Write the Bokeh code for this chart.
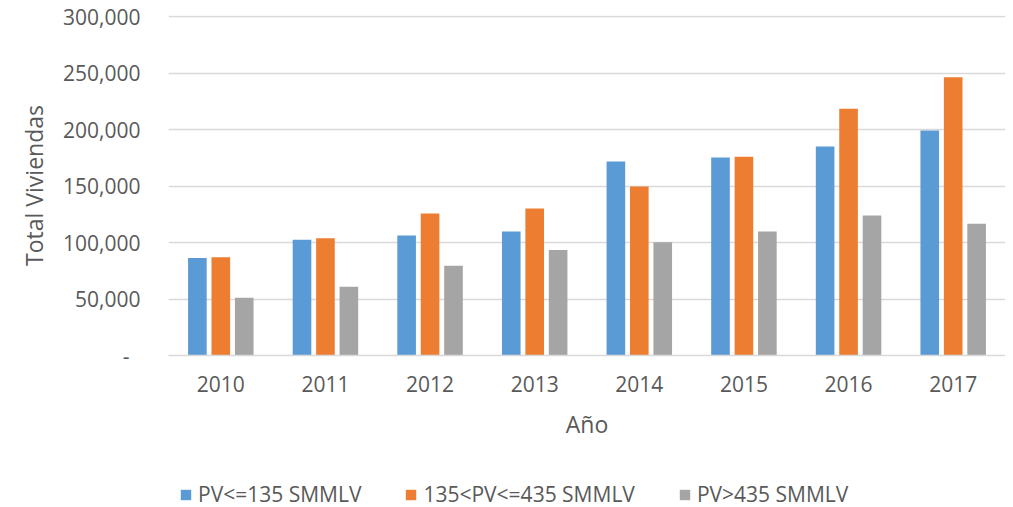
from bokeh.plotting import figure
from bokeh.layouts import column
from bokeh.models import ColumnDataSource, FactorRange, Range1d, FixedTicker, NumeralTickFormatter, Legend, LegendItem
from bokeh.transform import dodge
from bokeh.embed import file_html
from bokeh.resources import INLINE

years = ["2010", "2011", "2012", "2013", "2014", "2015", "2016", "2017"]
pv_low = [86300, 102500, 106100, 109700, 171700, 175300, 185000, 199200]
pv_mid = [86900, 103700, 125600, 130000, 149600, 175900, 218400, 246200]
pv_high = [51100, 60900, 79500, 93400, 100200, 109700, 123800, 116500]
series_names = ["PV<=135 SMMLV", "135<PV<=435 SMMLV", "PV>435 SMMLV"]
colors = ["#5B9BD5", "#ED7D31", "#A5A5A5"]
y_ticks = [0, 50000, 100000, 150000, 200000, 250000, 300000]

src = ColumnDataSource(dict(years=years, low=pv_low, mid=pv_mid, high=pv_high))

FONT = "Open Sans"
TXT = "#595959"

p = figure(x_range=FactorRange(*years), y_range=Range1d(0, 300900),
           width=1005, height=462, output_backend="svg", toolbar_location=None,
           min_border_left=168, min_border_right=0, min_border_top=15, min_border_bottom=107)
p.outline_line_color = None
p.background_fill_color = "white"
p.border_fill_color = "white"

for col, off, c in zip(["low", "mid", "high"], [-0.224, 0.0, 0.224], colors):
    p.vbar(x=dodge("years", off, range=p.x_range), top=col, width=0.178,
           source=src, fill_color=c, line_color=None)

p.xgrid.grid_line_color = None
p.ygrid.grid_line_color = "#D9D9D9"
p.ygrid.grid_line_width = 1.5
p.yaxis.ticker = FixedTicker(ticks=y_ticks)
p.yaxis.formatter = NumeralTickFormatter(format="0,0")
p.yaxis.major_label_overrides = {0: "-\u00a0\u00a0"}

for ax in (p.xaxis[0], p.yaxis[0]):
    ax.major_tick_in = 0
    ax.major_tick_out = 0
    ax.minor_tick_in = 0
    ax.minor_tick_out = 0
    ax.major_label_text_font = FONT
    ax.major_label_text_font_size = "21px"
    ax.major_label_text_color = TXT
    ax.axis_label_text_font = FONT
    ax.axis_label_text_font_size = "23px"
    ax.axis_label_text_font_style = "normal"
    ax.axis_label_text_color = TXT

p.yaxis.axis_line_color = None
p.yaxis.major_label_standoff = 28
p.yaxis.axis_label = "Total Viviendas"
p.yaxis.axis_label_standoff = 10

p.xaxis.axis_line_color = "#D9D9D9"
p.xaxis.axis_line_width = 1.5
p.xaxis.major_label_standoff = 20
p.xaxis.axis_label = "Año"
p.xaxis.axis_label_standoff = 13

# legend strip
lg = figure(width=1005, height=45, output_backend="svg", toolbar_location=None,
            x_range=Range1d(0, 1), y_range=Range1d(0, 1),
            min_border_left=0, min_border_right=0, min_border_top=0, min_border_bottom=0)
lg.outline_line_color = None
lg.axis.visible = False
lg.grid.visible = False
lg.border_fill_color = "white"
leg_renderers = []
for c in colors:
    leg_renderers.append(lg.vbar(x=[5], top=[0.5], width=0.1, fill_color=c, line_color=None))

legend = Legend(items=[LegendItem(label=n, renderers=[r]) for n, r in zip(series_names, leg_renderers)],
                orientation="horizontal", location=(11, -1),
                glyph_width=13, glyph_height=13, label_standoff=6, spacing=43,
                padding=0, margin=0, border_line_color=None, background_fill_alpha=0,
                label_text_font=FONT, label_text_font_size="21px", label_text_color=TXT)
lg.add_layout(legend, "center")

layout = column(p, lg, spacing=0)
open("out.html", "w").write(file_html(layout, INLINE))
